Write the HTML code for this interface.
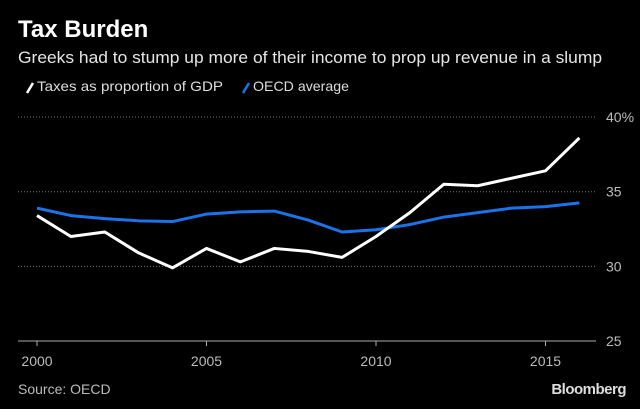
<!DOCTYPE html>
<html><head><meta charset="utf-8"><style>
body{margin:0;background:#000;width:640px;height:409px;overflow:hidden;font-family:"Liberation Sans",sans-serif}
</style></head><body>
<svg width="640" height="409" style="display:block">
<rect width="640" height="409" fill="#000"/>
<text x="18" y="37" fill="#fff" font-size="24" font-weight="bold">Tax Burden</text>
<text x="18" y="63" fill="#e6e6e6" font-size="17" textLength="584" lengthAdjust="spacingAndGlyphs">Greeks had to stump up more of their income to prop up revenue in a slump</text>
<g>
<line x1="27" y1="93" x2="33" y2="83" stroke="#fff" stroke-width="2.5"/>
<text x="37" y="91" fill="#ddd" font-size="14" textLength="186" lengthAdjust="spacingAndGlyphs">Taxes as proportion of GDP</text>
<line x1="243" y1="93" x2="249" y2="83" stroke="#1a73e8" stroke-width="2.5"/>
<text x="253" y="91" fill="#ddd" font-size="14" textLength="96" lengthAdjust="spacingAndGlyphs">OECD average</text>
</g>
<g id="grid"></g><g id="axis"></g><g id="series"></g>
<text x="18" y="394" fill="#bbb" font-size="14">Source: OECD</text>
<text x="626" y="394" fill="#ddd" font-size="15" font-weight="bold" text-anchor="end" letter-spacing="-0.5">Bloomberg</text>
</svg>
<script>
const years=[2000,2001,2002,2003,2004,2005,2006,2007,2008,2009,2010,2011,2012,2013,2014,2015,2016];
const greece=[33.4,32.0,32.3,30.9,29.9,31.2,30.3,31.2,31.0,30.6,32.0,33.6,35.5,35.4,35.9,36.4,38.6];
const oecd=[33.9,33.4,33.2,33.05,33.0,33.5,33.65,33.7,33.1,32.3,32.45,32.8,33.3,33.6,33.9,34.0,34.25];
const yTicks=[25,30,35,40];
const yLabels=["25","30","35","40%"];
const xTicks=[2000,2005,2010,2015];
const NS="http://www.w3.org/2000/svg";
const x=v=>37+(v-2000)*33.9;
const y=v=>341-(v-25)*14.93;
function mk(t,a,p){const e=document.createElementNS(NS,t);for(const k in a)e.setAttribute(k,a[k]);p.appendChild(e);return e;}
const grid=document.getElementById('grid'),axis=document.getElementById('axis'),ser=document.getElementById('series');
yTicks.forEach((t,i)=>{
 if(t!==25){const l=mk('line',{x1:18,x2:596,y1:y(t),y2:y(t),stroke:'#777','stroke-width':1,'stroke-dasharray':'1,2'},grid);
 
 }
 const tx=mk('text',{x:606,y:y(t)+5,fill:'#bbb','font-size':14},axis);tx.textContent=yLabels[i];
 
 
});
const al=mk('line',{x1:18,x2:596,y1:y(25),y2:y(25),stroke:'#aaa','stroke-width':1},axis);


xTicks.forEach(t=>{
 mk('line',{x1:x(t),x2:x(t),y1:y(25),y2:y(25)+5,stroke:'#aaa'},axis);
 const tx=mk('text',{x:x(t),y:y(25)+25,fill:'#bbb','font-size':14,'text-anchor':'middle'},axis);tx.textContent=t;
 
 
});
function line(d,c,n){const p=mk('polyline',{points:d.map((v,i)=>x(years[i])+','+y(v)).join(' '),fill:'none',stroke:c,'stroke-width':3,'stroke-linejoin':'round'},ser);
 
 }
line(oecd,'#1a73e8','oecd-line');
line(greece,'#ffffff','greece-taxes-line');
</script>
</body></html>
